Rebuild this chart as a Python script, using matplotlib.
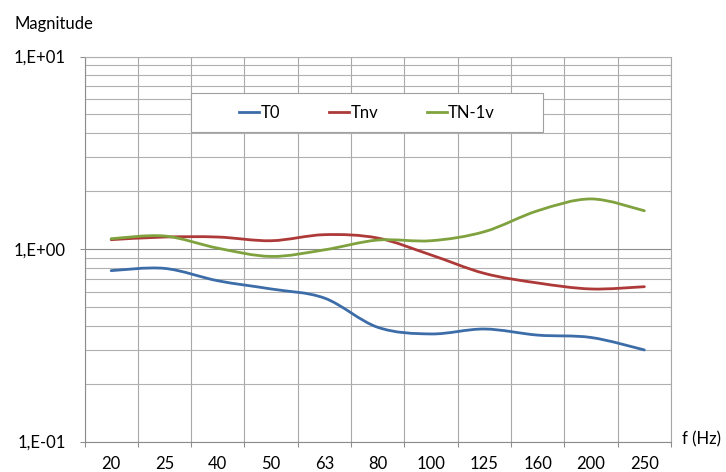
import numpy as np
import matplotlib
matplotlib.use("Agg")
import matplotlib.pyplot as plt
from matplotlib.path import Path
from matplotlib.patches import PathPatch, Rectangle
from matplotlib.lines import Line2D
from matplotlib.ticker import FixedLocator, LogLocator, FuncFormatter, NullFormatter

plt.rcParams['font.family'] = ['Lato', 'DejaVu Sans']

# data
freqs = ['20', '25', '40', '50', '63', '80', '100', '125', '160', '200', '250']
t0 = [0.772, 0.793, 0.684, 0.620, 0.556, 0.392, 0.362, 0.384, 0.357, 0.347, 0.299]
tnv = [1.118, 1.154, 1.154, 1.104, 1.187, 1.140, 0.931, 0.747, 0.666, 0.620, 0.637]
tn1v = [1.131, 1.168, 1.010, 0.915, 0.990, 1.113, 1.104, 1.230, 1.580, 1.820, 1.580]
names = ['T0', 'Tnv', 'TN-1v']
colors = ['#3D6DA8', '#AD3A38', '#7FA23E']


def smooth_path(xs, ys):
    # Excel-like smoothed line: cubic Bezier through the points (Catmull-Rom
    # control points), built in (x, log10 y) space
    px = np.asarray(xs, float)
    py = np.log10(np.asarray(ys, float))
    n = len(px)
    verts = [(px[0], 10 ** py[0])]
    codes = [Path.MOVETO]
    for i in range(n - 1):
        i0 = max(i - 1, 0)
        i3 = min(i + 2, n - 1)
        c1x = px[i] + (px[i + 1] - px[i0]) / 6
        c1y = py[i] + (py[i + 1] - py[i0]) / 6
        c2x = px[i + 1] - (px[i3] - px[i]) / 6
        c2y = py[i + 1] - (py[i3] - py[i]) / 6
        verts += [(c1x, 10 ** c1y), (c2x, 10 ** c2y), (px[i + 1], 10 ** py[i + 1])]
        codes += [Path.CURVE4] * 3
    return Path(verts, codes)


fig = plt.figure(figsize=(7.26, 4.72), dpi=100)
ax = fig.add_axes([84.5 / 726, 1 - 441.5 / 472, 586.5 / 726, 385 / 472])

x = np.arange(len(freqs))
ax.set_yscale('log')
ax.set_xlim(-0.5, len(freqs) - 0.5)
ax.set_ylim(0.1, 10)

for vals, c in zip([t0, tnv, tn1v], colors):
    ax.add_patch(PathPatch(smooth_path(x, vals), fill=False, edgecolor=c,
                           lw=2.0, capstyle='round', joinstyle='round', zorder=3))

# x axis: labels at category centres, grid + ticks on category boundaries
ax.xaxis.set_major_locator(FixedLocator(x))
ax.set_xticklabels(freqs)
ax.xaxis.set_minor_locator(FixedLocator(np.arange(len(freqs) + 1) - 0.5))
ax.tick_params(axis='x', which='major', length=0, pad=10.5, labelsize=12)
ax.tick_params(axis='x', which='minor', length=3.6, width=0.75, color='#8C8C8C')

# y axis
ax.yaxis.set_major_locator(FixedLocator([0.1, 1, 10]))
ax.yaxis.set_major_formatter(FuncFormatter(lambda v, p: '1,E%+03d' % int(round(np.log10(v)))))
ax.yaxis.set_minor_locator(LogLocator(base=10, subs=np.arange(2, 10)))
ax.yaxis.set_minor_formatter(NullFormatter())
ax.tick_params(axis='y', which='major', length=3.6, width=0.75, color='#8C8C8C',
               pad=10, labelsize=12)
ax.tick_params(axis='y', which='minor', length=0)

ax.grid(True, axis='y', which='major', color='#8C8C8C', lw=0.8)
ax.grid(True, axis='y', which='minor', color='#B0B0B0', lw=0.8)
ax.grid(True, axis='x', which='minor', color='#A8A8A8', lw=0.8)
ax.grid(False, axis='x', which='major')
ax.set_axisbelow(True)
for s in ax.spines.values():
    s.set_color('#8C8C8C')
    s.set_linewidth(0.8)
ax.spines['top'].set_color('#B0B0B0')
ax.spines['right'].set_color('#A8A8A8')

# legend box and entries
ax.add_patch(Rectangle((0.1816, 0.8039), 0.6002, 0.1013, transform=ax.transAxes,
                       facecolor='white', edgecolor='#A0A0A0', lw=0.8, zorder=4))
handles = [Line2D([], [], color=c, lw=2.0) for c in colors]
ax.legend(handles, names, loc='center', bbox_to_anchor=(0.482, 0.854), ncol=3,
          frameon=False, fontsize=12, handlelength=1.2, handletextpad=0.1,
          columnspacing=2.9, borderpad=0).set_zorder(5)

fig.text(14 / 726, 1 - 24 / 472, 'Magnitude', fontsize=12, va='center', ha='left')
fig.text(682 / 726, 1 - 439 / 472, 'f (Hz)', fontsize=12, va='center', ha='left')

fig.savefig('out.png', dpi=100)
